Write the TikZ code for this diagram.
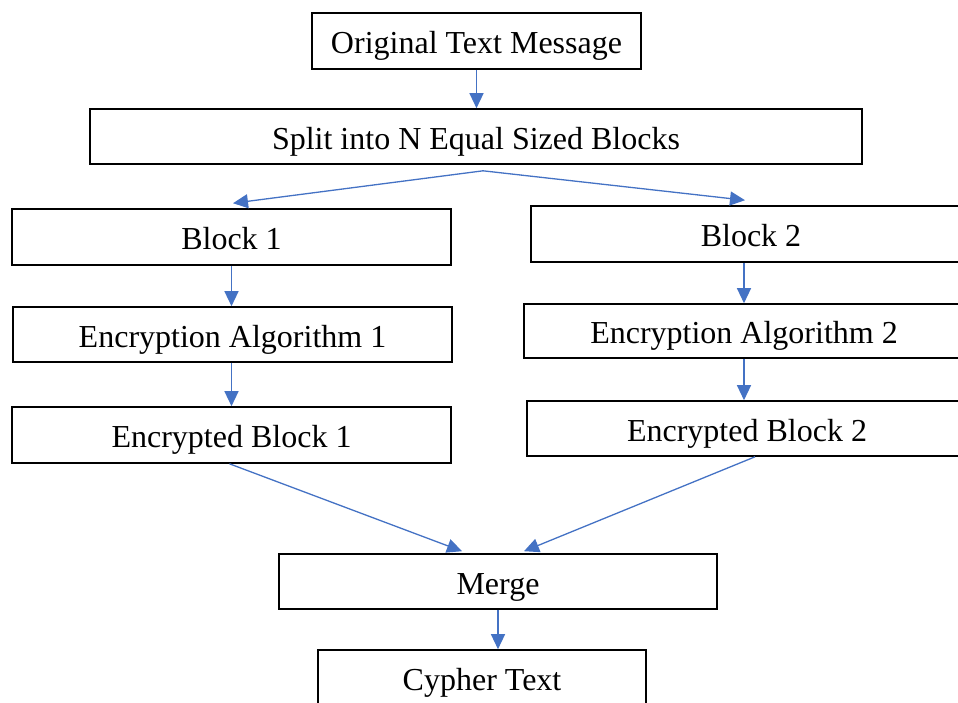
\documentclass[tikz,border=0pt]{standalone}
\usepackage{fontspec}
\setmainfont{Liberation Serif}
\usetikzlibrary{arrows.meta,calc}
\definecolor{flowblue}{HTML}{4472C4}
\begin{document}
\begin{tikzpicture}[x=1pt,y=-1pt,
  stagebox/.style={draw=black,line width=1.6pt,fill=white,inner sep=0pt,
    text height=27pt,text depth=2pt,
    font=\fontsize{32}{36}\selectfont},
  flow/.style={draw=flowblue,line width=1.3pt,-{Triangle[length=15pt,width=14pt]}}]
\useasboundingbox (0,0) rectangle (958,702);
% stages of the cipher
\node[stagebox,minimum width=329pt,minimum height=56pt] (orig) at (476.5,41) {Original Text Message};
\node[stagebox,minimum width=772pt,minimum height=55pt] (split) at (476,136.5) {Split into N Equal Sized Blocks};
\node[stagebox,minimum width=439pt,minimum height=56pt] (b1) at (231.5,237) {Block 1};
\node[stagebox,minimum width=440pt,minimum height=56pt] (b2) at (751,234) {Block 2};
\node[stagebox,minimum width=439pt,minimum height=55pt] (e1) at (232.5,334.5) {Encryption Algorithm 1};
\node[stagebox,minimum width=440pt,minimum height=54pt] (e2) at (744,331) {Encryption Algorithm 2};
\node[stagebox,minimum width=439pt,minimum height=56pt] (eb1) at (231.5,435) {Encrypted Block 1};
\node[stagebox,minimum width=440pt,minimum height=55pt] (eb2) at (747,428.5) {Encrypted Block 2};
\node[stagebox,minimum width=438pt,minimum height=55pt] (merge) at (498,581.5) {Merge};
\node[stagebox,minimum width=328pt,minimum height=56pt] (cypher) at (482,678) {Cypher Text};
% branching and joining points
\coordinate (fork) at ($(split.south)+(7,6)$);
\coordinate (in1) at ($(b1.north)+(1.5,-5)$);
\coordinate (in2) at ($(b2.north)+(-6,-5)$);
\coordinate (join1) at ($(merge.north)+(-36,-2)$);
\coordinate (join2) at ($(merge.north)+(26,-2)$);
% connectors
\draw[flow] (orig.south) -- (orig.south |- split.north);
\draw[flow] (fork) -- (in1);
\draw[flow] (fork) -- (in2);
\draw[flow] (b1.south) -- (b1.south |- e1.north);
\draw[flow] (e2.north |- b2.south) -- (e2.north);
\draw[flow] (eb1.north |- e1.south) -- (eb1.north);
\draw[flow] (e2.south) -- (e2.south |- eb2.north);
\draw[flow] ($(eb1.south)+(-2,0)$) -- (join1);
\draw[flow] ($(eb2.south)+(8,0)$) -- (join2);
\draw[flow] (merge.south) -- (merge.south |- cypher.north);
\end{tikzpicture}
\end{document}
